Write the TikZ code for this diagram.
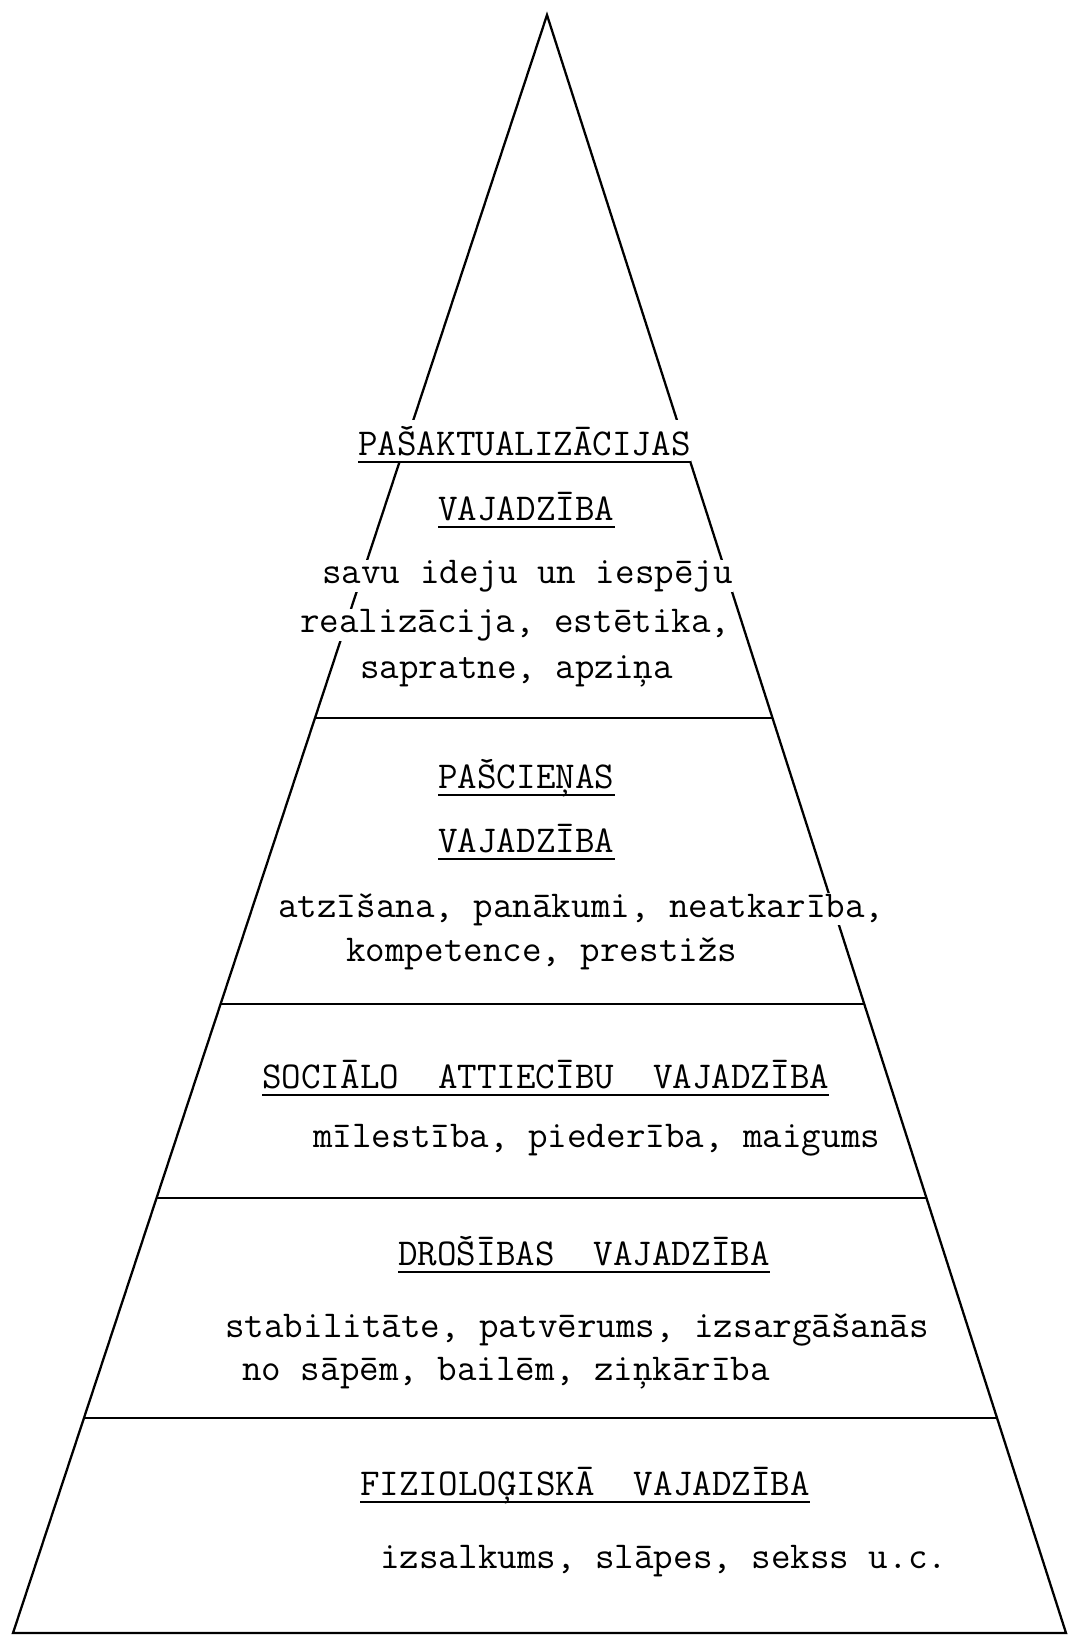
\documentclass[tikz,border=0pt]{standalone}
\usepackage{fontspec}
\usepackage{tikz}
\usetikzlibrary{calc}
\newcommand{\twfont}{\ttfamily\fontsize{21.6pt}{26pt}\selectfont}

\begin{document}
\begin{tikzpicture}[
  x=0.02cm, y=-0.02cm,
  side/.style={line width=1.3pt, line join=miter},
  tier/.style={line width=1.2pt},
  body/.style={font=\twfont, text=black, inner sep=0pt, fill=white, anchor=base west},
  head/.style={body, inner ysep=3pt},
  uline/.style={line width=1.1pt}
]
\useasboundingbox (0,0) rectangle (1069,1636);

% pyramid
\coordinate (apex) at (547,15);
\coordinate (bl) at (13,1633);
\coordinate (br) at (1066,1633);
\draw[side] (bl) -- (apex) -- (br) -- cycle;

% tiers
\foreach \y in {718,1004,1198,1418}
  \draw[tier] ($(apex)!{(\y-15)/1618}!(bl)$) -- ($(apex)!{(\y-15)/1618}!(br)$);

% top tier
\node[head] (h1)  at (358,455) {PAŠAKTUALIZĀCIJAS};
\node[head] (h1b) at (438,520) {VAJADZĪBA};
\node[body] (t1a) at (322,583) {savu ideju un iespēju};
\node[body] (t1b) at (300,632) {realizācija, estētika,};
\node[body] (t1c) at (360,678) {sapratne, apziņa};

% second tier
\node[head] (h2)  at (438,788) {PAŠCIEŅAS};
\node[head] (h2b) at (438,852) {VAJADZĪBA};
\node[body] (t2a) at (278,917) {atzīšana, panākumi, neatkarība,};
\node[body] (t2b) at (346,961) {kompetence, prestižs};

% third tier
\node[head] (h3) at (262,1088) {SOCIĀLO\ \ ATTIECĪBU\ \ VAJADZĪBA};
\node[body] (t3) at (313,1147) {mīlestība, piederība, maigums};

% fourth tier
\node[head] (h4)  at (398,1265) {DROŠĪBAS\ \ VAJADZĪBA};
\node[body] (t4a) at (225,1337) {stabilitāte, patvērums, izsargāšanās};
\node[body] (t4b) at (242,1380) {no sāpēm, bailēm, ziņkārība};

% base tier
\node[head] (h5) at (360,1495) {FIZIOLOĢISKĀ\ \ VAJADZĪBA};
\node[body] (t5) at (380,1568) {izsalkums, slāpes, sekss u.c.};

% underlines
\foreach \n in {h1,h1b,h2,h2b,h3,h4,h5}
  \draw[uline] ([yshift=-0.14cm]\n.base west) -- ([yshift=-0.14cm]\n.base east);

\end{tikzpicture}
\end{document}
